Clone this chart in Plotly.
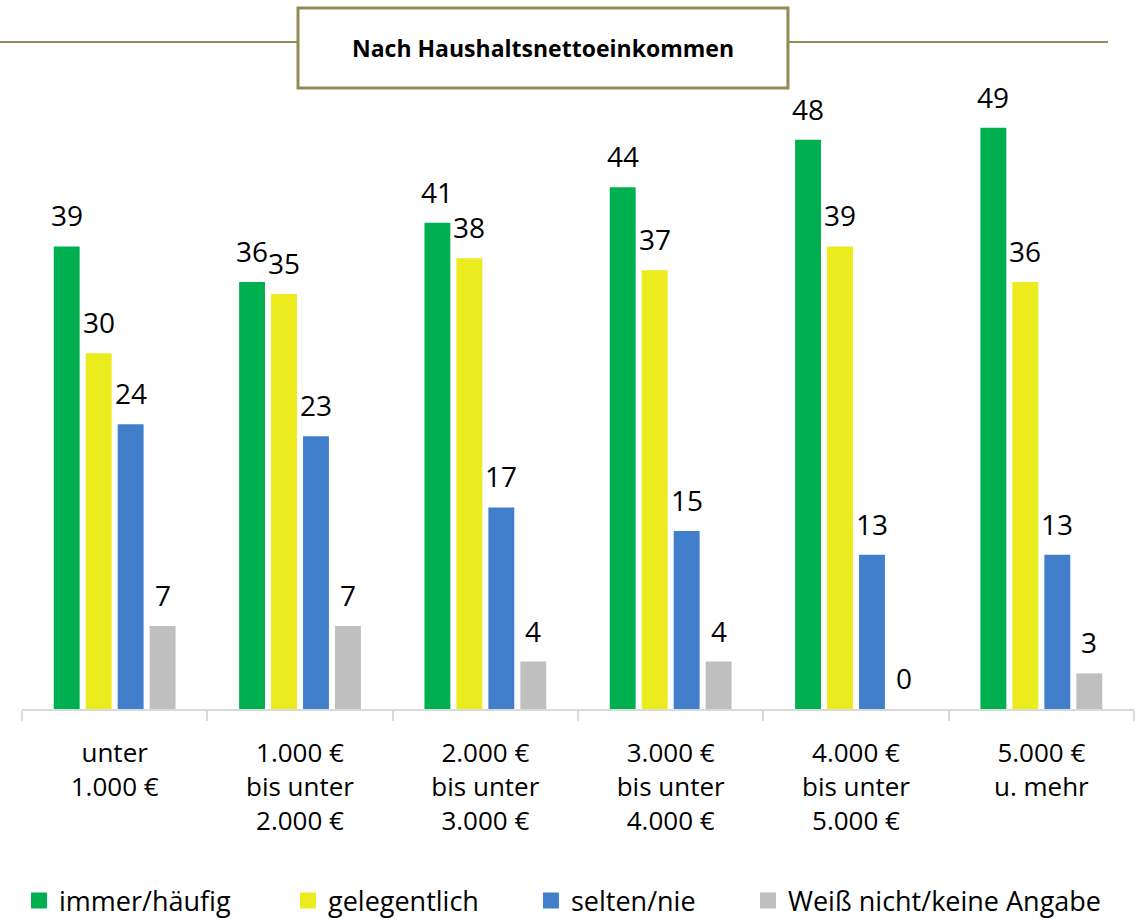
import plotly.graph_objects as go

categories = ["unter<br>1.000 €", "1.000 €<br>bis unter<br>2.000 €", "2.000 €<br>bis unter<br>3.000 €",
              "3.000 €<br>bis unter<br>4.000 €", "4.000 €<br>bis unter<br>5.000 €", "5.000 €<br>u. mehr"]
series_names = ["immer/häufig", "gelegentlich", "selten/nie", "Weiß nicht/keine Angabe"]
immer_haeufig = [39, 36, 41, 44, 48, 49]
gelegentlich = [30, 35, 38, 37, 39, 36]
selten_nie = [24, 23, 17, 15, 13, 13]
weiss_nicht = [7, 7, 4, 4, 0, 3]
title_text = "Nach Haushaltsnettoeinkommen"

series_values = [immer_haeufig, gelegentlich, selten_nie, weiss_nicht]
colors = ["#00B050", "#EBEB1E", "#417ECB", "#BFBFBF"]
FONT = "Open Sans"
BARGAP = 0.31
BARGROUPGAP = 0.19
OLIVE = "#948A54"

fig = go.Figure()
n = len(series_values)
for i, (name, vals, col) in enumerate(zip(series_names, series_values, colors)):
    fig.add_trace(go.Bar(x=categories, y=vals, name=name, marker=dict(color=col, line=dict(width=0)),
                         showlegend=False))

# legend entries (one legend per entry for exact placement)
legend_x = [-0.0027, 0.2392, 0.4577, 0.6529]
for i, (name, col) in enumerate(zip(series_names, colors)):
    lg = "legend" if i == 0 else f"legend{i+1}"
    fig.add_trace(go.Scatter(x=[None], y=[None], mode="markers", name=name,
                             marker=dict(symbol="square", size=16, color=col),
                             legend=lg, showlegend=True))

# data labels
slot = (1 - BARGAP) / n
annotations = []
for i, vals in enumerate(series_values):
    for j, v in enumerate(vals):
        annotations.append(dict(x=j + (i - (n - 1) / 2) * slot, y=v, xref="x", yref="y",
                                text=str(v), showarrow=False, yshift=31, yanchor="middle",
                                xanchor="center", font=dict(family=FONT, size=28, color="#000000")))

# title
annotations.append(dict(x=0.4685, y=1.085, xref="paper", yref="paper", text="<b>" + title_text + "</b>",
                        showarrow=False, xanchor="center", yanchor="middle",
                        font=dict(family=FONT, size=23, color="#000000")))

shapes = [
    dict(type="line", xref="paper", yref="paper", x0=-0.0198, x1=0.2482, y0=1.0952, y1=1.0952,
         line=dict(color=OLIVE, width=2)),
    dict(type="line", xref="paper", yref="paper", x0=0.6888, x1=0.9766, y0=1.0952, y1=1.0952,
         line=dict(color=OLIVE, width=2)),
    dict(type="rect", xref="paper", yref="paper", x0=0.2482, x1=0.6888, y0=1.0197, y1=1.1511,
         line=dict(color=OLIVE, width=3), fillcolor="white"),
]

layout_legends = {}
for i in range(n):
    key = "legend" if i == 0 else f"legend{i+1}"
    layout_legends[key] = dict(x=legend_x[i], y=-0.3153, xanchor="left", yanchor="middle",
                               orientation="h", bgcolor="rgba(0,0,0,0)",
                               font=dict(family=FONT, size=27, color="#000000"))

fig.update_layout(
    width=1145, height=920,
    margin=dict(l=22, r=11, t=100, b=211, autoexpand=False),
    paper_bgcolor="white", plot_bgcolor="white",
    barmode="group", bargap=BARGAP, bargroupgap=BARGROUPGAP,
    annotations=annotations, shapes=shapes,
    font=dict(family=FONT, color="#000000"),
    xaxis=dict(type="category", showline=True, linecolor="#D9D9D9", linewidth=2,
               ticks="outside", tickson="boundaries", ticklen=10, tickcolor="#D9D9D9", tickwidth=2,
               tickfont=dict(family=FONT, size=26, color="#000000"), showgrid=False, zeroline=False,
               ticklabelstandoff=20, automargin=False),
    yaxis=dict(range=[0, 51.35], visible=False, showgrid=False, zeroline=False),
    **layout_legends,
)

fig.write_html("out.html", config={"displayModeBar": False},
               post_script="document.body.style.margin='0px';document.body.style.padding='0px';")
